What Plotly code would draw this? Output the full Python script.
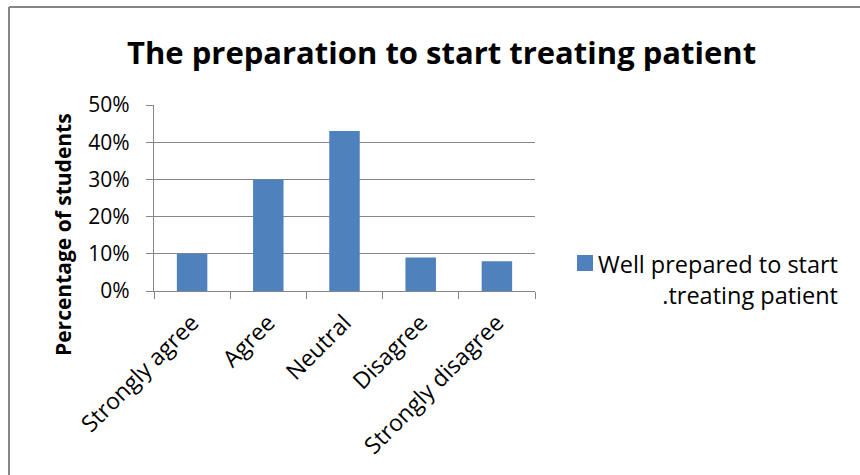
import plotly.graph_objects as go

categories = ["Strongly agree", "Agree", "Neutral", "Disagree", "Strongly disagree"]
values = [10, 30, 43, 9, 8]
series_name = "Well prepared to start<br>.treating patient"
title_text = "The preparation to start treating patient"
y_title = "Percentage of students"
y_ticks = [0, 10, 20, 30, 40, 50]
y_ticktext = [f"{v}%" for v in y_ticks]

W, H = 860, 475
L, R, T, B = 154, 325, 105, 184
FONT = "Open Sans"
GRAY = "#868686"
BLUE = "#4F81BD"

fig = go.Figure()
fig.add_trace(go.Bar(x=categories, y=values, name=series_name,
                     marker=dict(color=BLUE, line=dict(width=0)),
                     showlegend=False))

def px(x):
    return (x - L) / (W - L - R)

def py(y):
    return (H - B - y) / (H - T - B)

fig.update_layout(
    width=W, height=H, autosize=False,
    margin=dict(l=L, r=R, t=T, b=B, autoexpand=False),
    paper_bgcolor="white", plot_bgcolor="white",
    bargap=0.6,
    font=dict(family=FONT, color="black"),
    xaxis=dict(showline=True, linecolor=GRAY, linewidth=1.3, ticks="outside",
               tickson="boundaries", ticklen=7, tickcolor=GRAY, tickwidth=1.3,
               tickangle=-45, tickfont=dict(size=23, family=FONT),
               ticklabelstandoff=8,
               showgrid=False, automargin=False),
    yaxis=dict(range=[0, 50], tickmode="array", tickvals=y_ticks, ticktext=y_ticktext,
               showline=True, linecolor=GRAY, linewidth=1.3, ticks="outside",
               ticklen=7, tickcolor=GRAY, tickwidth=1.3,
               showgrid=True, gridcolor=GRAY, gridwidth=1.3,
               tickfont=dict(size=21, family=FONT), ticklabelstandoff=12,
               zeroline=False, automargin=False),
    annotations=[
        dict(text=f"<b>{title_text}</b>", xref="paper", yref="paper",
             x=px(441), y=py(52), xanchor="center", yanchor="middle",
             showarrow=False, font=dict(size=31, family=FONT)),
        dict(text=f"<b>{y_title}</b>", xref="paper", yref="paper",
             x=px(63), y=py(235), xanchor="center", yanchor="middle",
             textangle=-90, showarrow=False, font=dict(size=21, family=FONT)),
        dict(text=series_name, xref="paper", yref="paper",
             x=px(840), y=py(279), xanchor="right", yanchor="middle",
             align="right", showarrow=False, font=dict(size=23.5, family=FONT)),
    ],
    shapes=[
        dict(type="line", xref="paper", yref="paper", x0=px(9), x1=px(862),
             y0=py(7), y1=py(7), line=dict(color=GRAY, width=2)),
        dict(type="line", xref="paper", yref="paper", x0=px(9), x1=px(9),
             y0=py(7), y1=py(480), line=dict(color=GRAY, width=2)),
        dict(type="rect", xref="paper", yref="paper", x0=px(577), x1=px(593),
             y0=py(255), y1=py(271), line=dict(width=0), fillcolor=BLUE),
    ],
)

fig.write_html("out.html")
